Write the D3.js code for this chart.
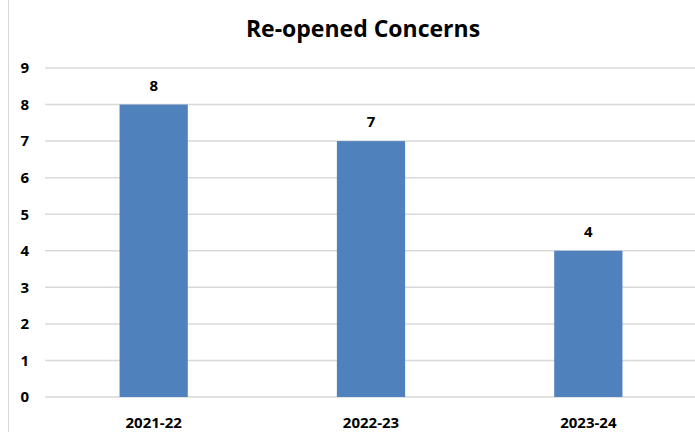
<!DOCTYPE html>
<html>
<head>
<meta charset="utf-8">
<script src="https://cdn.jsdelivr.net/npm/d3@7"></script>
<style>
  html, body { margin: 0; padding: 0; background: #fff; }
  svg { display: block; }
  text { font-family: "Open Sans", "Liberation Sans", sans-serif; font-weight: bold; fill: #000; }
</style>
</head>
<body>
<svg id="chart" width="695" height="432"></svg>
<script>
// Re-opened concerns per year
const years = ["2021-22", "2022-23", "2023-24"];
const counts = [8, 7, 4];
const yTicks = [0, 1, 2, 3, 4, 5, 6, 7, 8, 9];
const chartTitle = "Re-opened Concerns";

const svg = d3.select("#chart");
const W = 695, H = 432;
const plot = { left: 45, right: 697, top: 68, bottom: 397 };
const labelSize = 15;

// outer chart border (left edge visible)
svg.append("line")
  .attr("x1", 8.5).attr("x2", 8.5).attr("y1", 0).attr("y2", H)
  .attr("stroke", "#d9d9d9").attr("stroke-width", 1);

const x = d3.scaleBand()
  .domain(years)
  .range([plot.left, plot.right])
  .paddingInner(0.686)
  .paddingOuter(0.343);

const y = d3.scaleLinear()
  .domain([0, 9])
  .range([plot.bottom, plot.top]);

// gridlines
svg.append("g")
  .selectAll("line")
  .data(yTicks)
  .join("line")
  .attr("x1", plot.left).attr("x2", W)
  .attr("y1", d => y(d)).attr("y2", d => y(d))
  .attr("stroke", "#d9d9d9").attr("stroke-width", 1.5);

function styleTicks(g) {
  g.select(".domain").remove();
  g.selectAll("text")
    .attr("font-size", labelSize)
    .attr("font-family", "'Open Sans', sans-serif")
    .attr("font-weight", "bold")
    .attr("fill", "#000");
}

// y tick labels
const yAxis = d3.axisLeft(y).tickValues(yTicks).tickSize(0).tickPadding(0);
svg.append("g").attr("transform", "translate(29,0)").call(yAxis).call(styleTicks);

// x tick labels
const xAxis = d3.axisBottom(x).tickSize(0).tickPadding(0);
svg.append("g").attr("transform", "translate(0,417)").call(xAxis).call(styleTicks);

// bars
svg.append("g")
  .selectAll("rect")
  .data(years)
  .join("rect")
  .attr("x", d => x(d))
  .attr("width", x.bandwidth())
  .attr("y", (d, i) => y(counts[i]))
  .attr("height", (d, i) => y(0) - y(counts[i]))
  .attr("fill", "#4f81bd");

// value labels
svg.append("g")
  .selectAll("text")
  .data(years)
  .join("text")
  .attr("x", d => x(d) + x.bandwidth() / 2)
  .attr("y", (d, i) => y(counts[i]) - 14)
  .attr("text-anchor", "middle")
  .attr("font-size", labelSize)
  .text((d, i) => counts[i]);

// title
svg.append("text")
  .attr("x", 363)
  .attr("y", 37)
  .attr("text-anchor", "middle")
  .attr("font-size", 23)
  .text(chartTitle);
</script>
</body>
</html>
